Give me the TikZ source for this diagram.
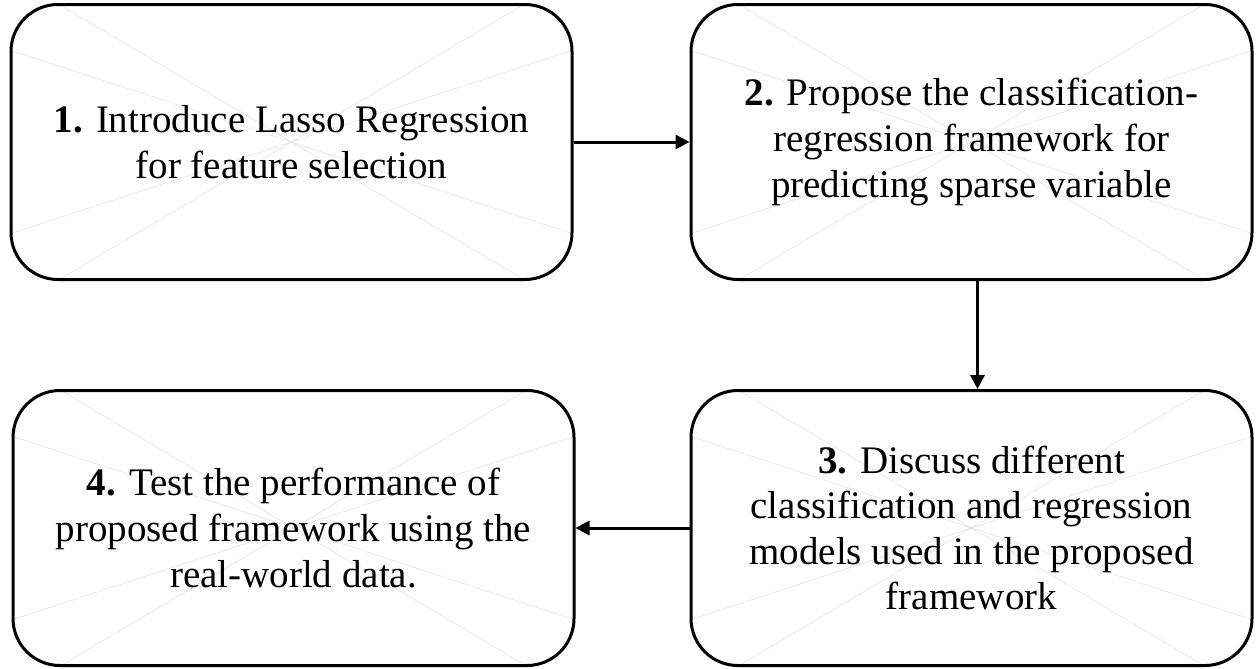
\documentclass[tikz,border=0pt]{standalone}
\usepackage{fontspec}
\setmainfont{Liberation Serif}
\usetikzlibrary{arrows.meta,backgrounds,positioning}

\tikzset{
  stepbox/.style={draw=black, line width=1.5pt, rounded corners=23.5pt,
    minimum width=280.5pt, minimum height=137.5pt, align=center,
    font=\fontsize{19.5}{22.8}\selectfont, inner sep=0pt},
  spoke/.style={draw=gray!22, line width=0.3pt},
  flow/.style={draw=black, line width=1.5pt, -{Triangle[length=7pt,width=7pt]}}
}

\begin{document}
\begin{tikzpicture}[x=0.5pt, y=-0.5pt]
      \useasboundingbox (0,0) rectangle (1258,669);
      \begin{scope}[every node/.style={stepbox}]
        \node (B1) at (291.5,142) {\textbf{1.} Introduce Lasso Regression\\for feature selection};
        \node (B2) [right=58pt of B1] {\textbf{2.} Propose the classification-\\regression framework for\\predicting sparse variable};
        \node (B3) [below=54pt of B2] {\textbf{3.} Discuss different\\classification and regression\\models used in the proposed\\framework};
        \node (B4) [left=57pt of B3] {\textbf{4.} Test the performance of\\proposed framework using the\\real-world data.};
      \end{scope}
      % faint corner lines behind the text
      \begin{scope}[on background layer]
        \foreach \n in {B1,B2,B3,B4} {
          \draw[spoke] ([xshift=23.5pt]\n.north west) -- (\n.center) -- ([yshift=-23.5pt]\n.north west);
          \draw[spoke] ([xshift=-23.5pt]\n.north east) -- (\n.center) -- ([yshift=-23.5pt]\n.north east);
          \draw[spoke] ([xshift=23.5pt]\n.south west) -- (\n.center) -- ([yshift=23.5pt]\n.south west);
          \draw[spoke] ([xshift=-23.5pt]\n.south east) -- (\n.center) -- ([yshift=23.5pt]\n.south east);
        }
      \end{scope}
      \path[flow] (B1) -- (B2);
      \path[flow] ([xshift=3pt]B2.south) -- ([xshift=3pt]B3.north);
      \path[flow] (B3) -- (B4);
    \end{tikzpicture}
\end{document}
